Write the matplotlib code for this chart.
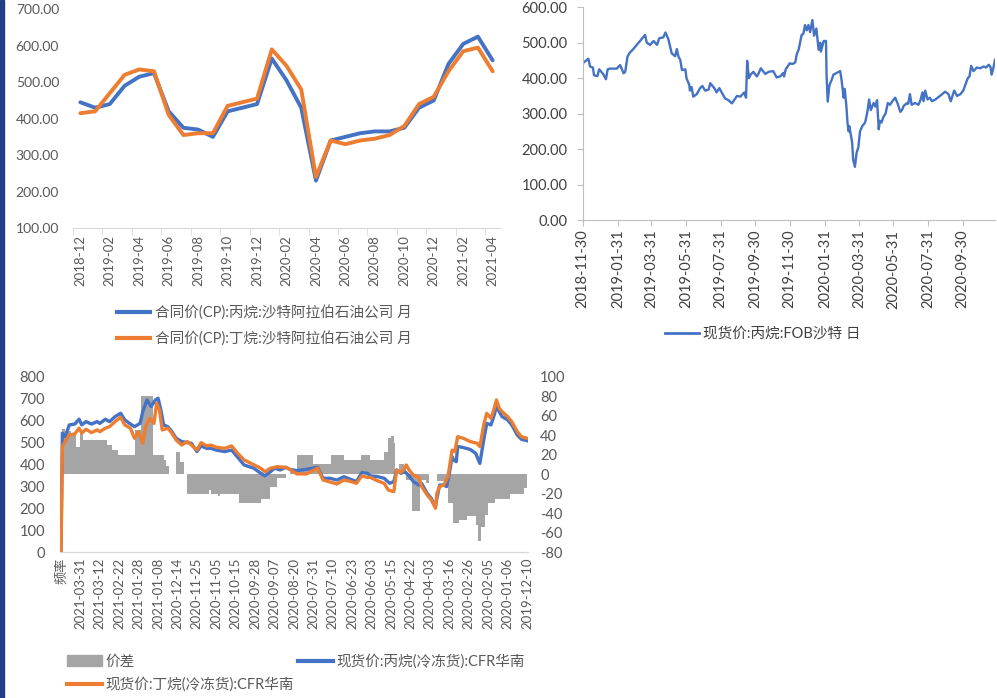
import matplotlib
matplotlib.use('Agg')
import matplotlib.pyplot as plt
from matplotlib.patches import Rectangle, Patch
from matplotlib.lines import Line2D
import numpy as np
import pandas as pd

plt.rcParams['font.family'] = ['Lato', 'Noto Sans CJK SC', 'DejaVu Sans']
plt.rcParams['axes.unicode_minus'] = False

BLUE = '#4472C4'
ORANGE = '#ED7D31'
GRAY = '#A5A5A5'
TXT = '#595959'
AXC = '#D9D9D9'

# ---------------- 数据：合同价CP（月） ----------------
cp_months = [str(p) for p in pd.period_range('2018-12', '2021-04', freq='M')]
cp_propane = [445, 430, 440, 490, 515, 525, 420, 375, 370, 350,
              420, 430, 440, 565, 505, 430, 230, 340, 350, 360,
              365, 365, 375, 430, 450, 550, 605, 625, 560]
cp_butane = [415, 420, 470, 520, 535, 530, 410, 355, 360, 360,
             435, 445, 455, 590, 545, 480, 240, 340, 330, 340,
             345, 355, 380, 440, 460, 530, 585, 595, 530]

# ---------------- 数据：现货价 丙烷 FOB沙特（日） ----------------
fob_start = '2018-11-30'
fob_day = [0, 10, 13, 18, 20, 26, 29, 36, 41, 44,
           48, 60, 66, 72, 75, 79, 83, 88, 110, 113,
           119, 125, 131, 135, 142, 146, 151, 157, 163, 166,
           169, 172, 175, 181, 183, 188, 189, 192, 195, 201,
           207, 211, 216, 222, 225, 229, 233, 236, 241, 245,
           251, 257, 263, 267, 272, 278, 282, 285, 288, 290,
           293, 296, 301, 307, 310, 314, 318, 322, 328, 336,
           342, 348, 354, 355, 358, 365, 370, 375, 377, 381,
           386, 389, 392, 395, 398, 401, 405, 408, 412, 414,
           416, 419, 420, 425, 429, 430, 432, 435, 439, 442,
           448, 454, 456, 458, 460, 462, 465, 467, 469, 470,
           475, 477, 480, 483, 486, 489, 493, 498, 502, 505,
           508, 513, 516, 519, 522, 524, 527, 530, 534, 538,
           542, 546, 551, 555, 560, 563, 566, 572, 574, 577,
           580, 586, 592, 596, 599, 601, 604, 608, 612, 616,
           622, 630, 639, 645, 649, 655, 660, 666, 671, 674,
           679, 682, 685, 689, 695, 701, 707, 711, 716, 719,
           721, 724, 727]
fob_val = [442, 455, 433, 430, 408, 406, 425, 412, 397, 425,
           427, 427, 437, 414, 418, 461, 472, 480, 522, 500,
           494, 505, 494, 513, 515, 529, 510, 470, 462, 482,
           460, 452, 423, 425, 400, 381, 365, 375, 348, 355,
           372, 378, 365, 368, 386, 378, 370, 360, 372, 360,
           343, 338, 329, 338, 350, 348, 355, 360, 345, 449,
           400, 410, 418, 405, 413, 428, 420, 412, 418, 420,
           402, 405, 415, 405, 425, 442, 440, 445, 465, 482,
           522, 525, 550, 535, 550, 530, 564, 520, 540, 510,
           480, 500, 475, 505, 505, 410, 334, 380, 395, 410,
           415, 420, 400, 375, 345, 370, 320, 273, 250, 265,
           220, 169, 150, 190, 205, 250, 265, 275, 305, 340,
           310, 330, 320, 338, 256, 280, 275, 290, 300, 330,
           325, 335, 345, 330, 305, 310, 322, 330, 328, 355,
           325, 330, 325, 340, 360, 335, 365, 340, 345, 335,
           340, 350, 362, 355, 335, 365, 350, 355, 365, 378,
           400, 405, 435, 420, 430, 428, 433, 430, 438, 432,
           410, 428, 452]
fob_ticks = ['2018-11-30', '2019-01-31', '2019-03-31', '2019-05-31',
             '2019-07-31', '2019-09-30', '2019-11-30', '2020-01-31',
             '2020-03-31', '2020-05-31', '2020-07-31', '2020-09-30']

# ---------------- 数据：CFR华南（日，倒序排列，行号） ----------------
cfr_labels = ['频率', '2021-03-31', '2021-03-12', '2021-02-22', '2021-01-28',
              '2021-01-08', '2020-12-14', '2020-11-25', '2020-11-05', '2020-10-15',
              '2020-09-28', '2020-09-07', '2020-08-20', '2020-07-31', '2020-07-10',
              '2020-06-23', '2020-06-03', '2020-05-15', '2020-04-22', '2020-04-03',
              '2020-03-16', '2020-02-26', '2020-02-05', '2020-01-06', '2019-12-10']
label_step = 14

c3_row = [0, 1, 3, 6, 10, 13, 15, 18, 22, 26,
          28, 32, 35, 39, 43, 46, 50, 53, 57, 59,
          62, 65, 68, 70, 72, 74, 77, 80, 83, 87,
          91, 94, 98, 101, 105, 108, 112, 118, 123, 127,
          132, 139, 144, 147, 151, 154, 158, 162, 165, 170,
          177, 185, 189, 194, 199, 204, 209, 213, 217, 221,
          223, 228, 233, 237, 240, 242, 245, 248, 251, 254,
          258, 260, 264, 267, 270, 271, 273, 276, 278, 280,
          282, 283, 285, 286, 289, 295, 299, 302, 305, 307,
          310, 312, 314, 316, 318, 322, 325, 329, 332, 336]
c3_val = [0, 543, 527, 581, 585, 607, 581, 596, 585, 596,
          588, 607, 596, 619, 634, 604, 585, 573, 588, 642,
          695, 665, 695, 703, 649, 581, 573, 550, 520, 505,
          500, 497, 459, 485, 474, 474, 466, 459, 466, 436,
          398, 383, 360, 348, 367, 383, 375, 387, 378, 372,
          378, 387, 337, 337, 329, 344, 332, 322, 363, 360,
          348, 345, 337, 314, 322, 375, 360, 367, 348, 322,
          306, 314, 268, 245, 207, 245, 306, 306, 299, 360,
          436, 421, 413, 482, 479, 469, 451, 405, 520, 588,
          581, 619, 665, 642, 619, 604, 581, 535, 515, 509]

c4_row = [0, 1, 3, 6, 10, 13, 15, 18, 22, 26,
          28, 32, 35, 39, 43, 46, 50, 53, 56, 59,
          61, 64, 67, 69, 71, 73, 77, 80, 83, 87,
          91, 94, 98, 101, 105, 108, 112, 118, 123, 127,
          132, 138, 144, 147, 151, 156, 162, 165, 170, 177,
          185, 189, 199, 204, 209, 213, 217, 221, 223, 228,
          233, 236, 240, 242, 245, 247, 249, 251, 254, 258,
          260, 264, 267, 270, 271, 273, 276, 279, 282, 284,
          286, 290, 295, 300, 302, 305, 307, 310, 312, 314,
          316, 318, 322, 325, 329, 332, 336]
c4_val = [0, 482, 505, 535, 540, 566, 543, 561, 546, 558,
          550, 566, 573, 596, 616, 581, 566, 520, 550, 497,
          573, 611, 588, 680, 649, 558, 566, 543, 512, 489,
          505, 489, 466, 500, 485, 489, 479, 474, 485, 454,
          421, 402, 383, 367, 383, 390, 387, 378, 357, 357,
          383, 329, 311, 329, 322, 314, 348, 341, 341, 326,
          314, 283, 276, 375, 363, 375, 398, 375, 352, 341,
          299, 261, 238, 200, 268, 299, 306, 344, 466, 459,
          527, 520, 505, 497, 482, 588, 634, 611, 649, 695,
          657, 642, 619, 596, 550, 527, 520]

# 价差：每段起始行号及该段数值（最后一个行号为结束）
spread_row = [0, 1, 3, 7, 11, 14, 16, 33, 37, 41,
              53, 58, 66, 74, 76, 78, 83, 86, 89, 91,
              107, 108, 113, 115, 128, 144, 151, 156, 162, 165,
              170, 182, 195, 204, 216, 223, 233, 236, 238, 240,
              241, 244, 247, 249, 253, 259, 263, 265, 271, 279,
              283, 287, 293, 299, 301, 303, 306, 308, 313, 324,
              334, 336]
spread_val = [0, 47, 44, 42, 28, 42, 35, 30, 25, 20,
              45, 80, 20, 15, 8, 0, 23, 13, 0, -20,
              -16, -20, -22, -20, -30, -25, -13, -4, 0, 5,
              20, 10, 20, 15, 20, 15, 23, 37, 39, 32,
              0, 11, 4, -6, -38, -6, -9, 0, -7, -30,
              -50, -47, -43, -52, -69, -54, -42, -30, -25, -20,
              -14]

W, H = 997, 698
fig = plt.figure(figsize=(W / 100, H / 100), dpi=100, facecolor='white')
fig.patches.append(Rectangle((0, 0), 4 / W, 1, transform=fig.transFigure,
                             color='#1F3F86', zorder=10))


def box(l, t, r, b):
    return [l / W, 1 - b / H, (r - l) / W, (b - t) / H]


# ---------- 左上：CP ----------
ax1 = fig.add_axes(box(73, 9.3, 500, 228))
x1 = np.arange(len(cp_months))
ax1.plot(x1, cp_propane, color=BLUE, lw=2.8, solid_capstyle='round', zorder=3)
ax1.plot(x1, cp_butane, color=ORANGE, lw=2.8, solid_capstyle='round', zorder=4)
ax1.set_xlim(-0.5, len(cp_months) - 0.5)
ax1.set_ylim(100, 700)
ax1.set_yticks(range(100, 701, 100))
ax1.set_yticklabels([f'{v:.2f}' for v in range(100, 701, 100)])
ax1.set_xticks(x1[::2])
ax1.set_xticklabels(cp_months[::2], rotation=90)
ax1.set_xticks(np.arange(-0.5, len(cp_months), 2), minor=True)
ax1.tick_params(axis='x', which='major', length=0, pad=5, labelsize=9.5, labelcolor=TXT)
ax1.tick_params(axis='x', which='minor', length=5, color=AXC)
ax1.tick_params(axis='y', length=0, pad=10, labelsize=10, labelcolor=TXT)
for s in ['top', 'right', 'left']:
    ax1.spines[s].set_visible(False)
ax1.spines['bottom'].set_color(AXC)

fig.legend(handles=[Line2D([], [], color=BLUE, lw=3),
                    Line2D([], [], color=ORANGE, lw=3)],
           labels=['合同价(CP):丙烷:沙特阿拉伯石油公司 月',
                   '合同价(CP):丁烷:沙特阿拉伯石油公司 月'],
           loc='center', bbox_to_anchor=(264 / W, 1 - 325.5 / H),
           frameon=False, fontsize=10.5, handlelength=2.3,
           handletextpad=0.3, labelspacing=0.75, labelcolor=TXT)

# ---------- 右上：FOB沙特 ----------
ax2 = fig.add_axes(box(582.7, 7.3, 995, 220))
fob_dates = pd.to_datetime(fob_start) + pd.to_timedelta(fob_day, unit='D')
ax2.plot(fob_dates, fob_val, color=BLUE, lw=1.7)
ax2.set_xlim(fob_dates[0], fob_dates[-1])
ax2.set_ylim(0, 600)
ax2.set_yticks(range(0, 601, 100))
ax2.set_yticklabels([f'{v:.2f}' for v in range(0, 601, 100)])
tick_dates = pd.to_datetime(fob_ticks)
ax2.set_xticks(tick_dates)
ax2.set_xticklabels(fob_ticks, rotation=90)
ax2.tick_params(axis='both', length=4, color='#BFBFBF', labelcolor='#404040')
ax2.tick_params(axis='x', labelsize=10.5, pad=3)
ax2.tick_params(axis='y', labelsize=10.5, pad=7)
for s in ['top', 'right']:
    ax2.spines[s].set_visible(False)
for s in ['left', 'bottom']:
    ax2.spines[s].set_color('#BFBFBF')

fig.legend(handles=[Line2D([], [], color=BLUE, lw=2)],
           labels=['现货价:丙烷:FOB沙特 日'],
           loc='center', bbox_to_anchor=(763 / W, 1 - 334 / H),
           frameon=False, fontsize=10.5, handlelength=2.3,
           handletextpad=0.3, labelcolor='#404040')

# ---------- 下：CFR华南 + 价差 ----------
ax3 = fig.add_axes(box(60.3, 377, 527.7, 552))
ax4 = ax3.twinx()
ax3.set_zorder(ax4.get_zorder() + 1)
ax3.patch.set_visible(False)

ax4.stairs(spread_val, spread_row, baseline=0, fill=True, color=GRAY, lw=0)
ax4.set_ylim(-80, 100)
ax4.set_yticks(range(-80, 101, 20))

ax3.plot(c3_row, c3_val, color=BLUE, lw=2.4, zorder=3)
ax3.plot(c4_row, c4_val, color=ORANGE, lw=2.4, zorder=4)
ax3.set_ylim(0, 800)
ax3.set_yticks(range(0, 801, 100))
ax3.set_xlim(-0.5, c3_row[-1] + 0.5)
ax3.set_xticks(np.arange(len(cfr_labels)) * label_step)
ax3.set_xticklabels(cfr_labels, rotation=90)
ax3.tick_params(axis='x', length=0, pad=4, labelsize=9.5, labelcolor=TXT)
ax3.tick_params(axis='y', length=0, pad=11, labelsize=10.5, labelcolor=TXT)
ax4.tick_params(axis='y', length=0, pad=9, labelsize=10.5, labelcolor=TXT)
for a in (ax3, ax4):
    for s in ['top', 'right', 'left']:
        a.spines[s].set_visible(False)
    a.spines['bottom'].set_color(AXC)

fig.legend(handles=[Patch(color=GRAY), Line2D([], [], color=ORANGE, lw=3),
                    Line2D([], [], color=BLUE, lw=3)],
           labels=['价差', '现货价:丁烷(冷冻货):CFR华南', '现货价:丙烷(冷冻货):CFR华南'],
           ncol=2, loc='center', bbox_to_anchor=(296 / W, 1 - 673 / H),
           frameon=False, fontsize=10.5, handlelength=2.4,
           handletextpad=0.25, columnspacing=0.3, labelspacing=0.6,
           labelcolor=TXT)

fig.savefig('out.png', dpi=100, facecolor='white')
